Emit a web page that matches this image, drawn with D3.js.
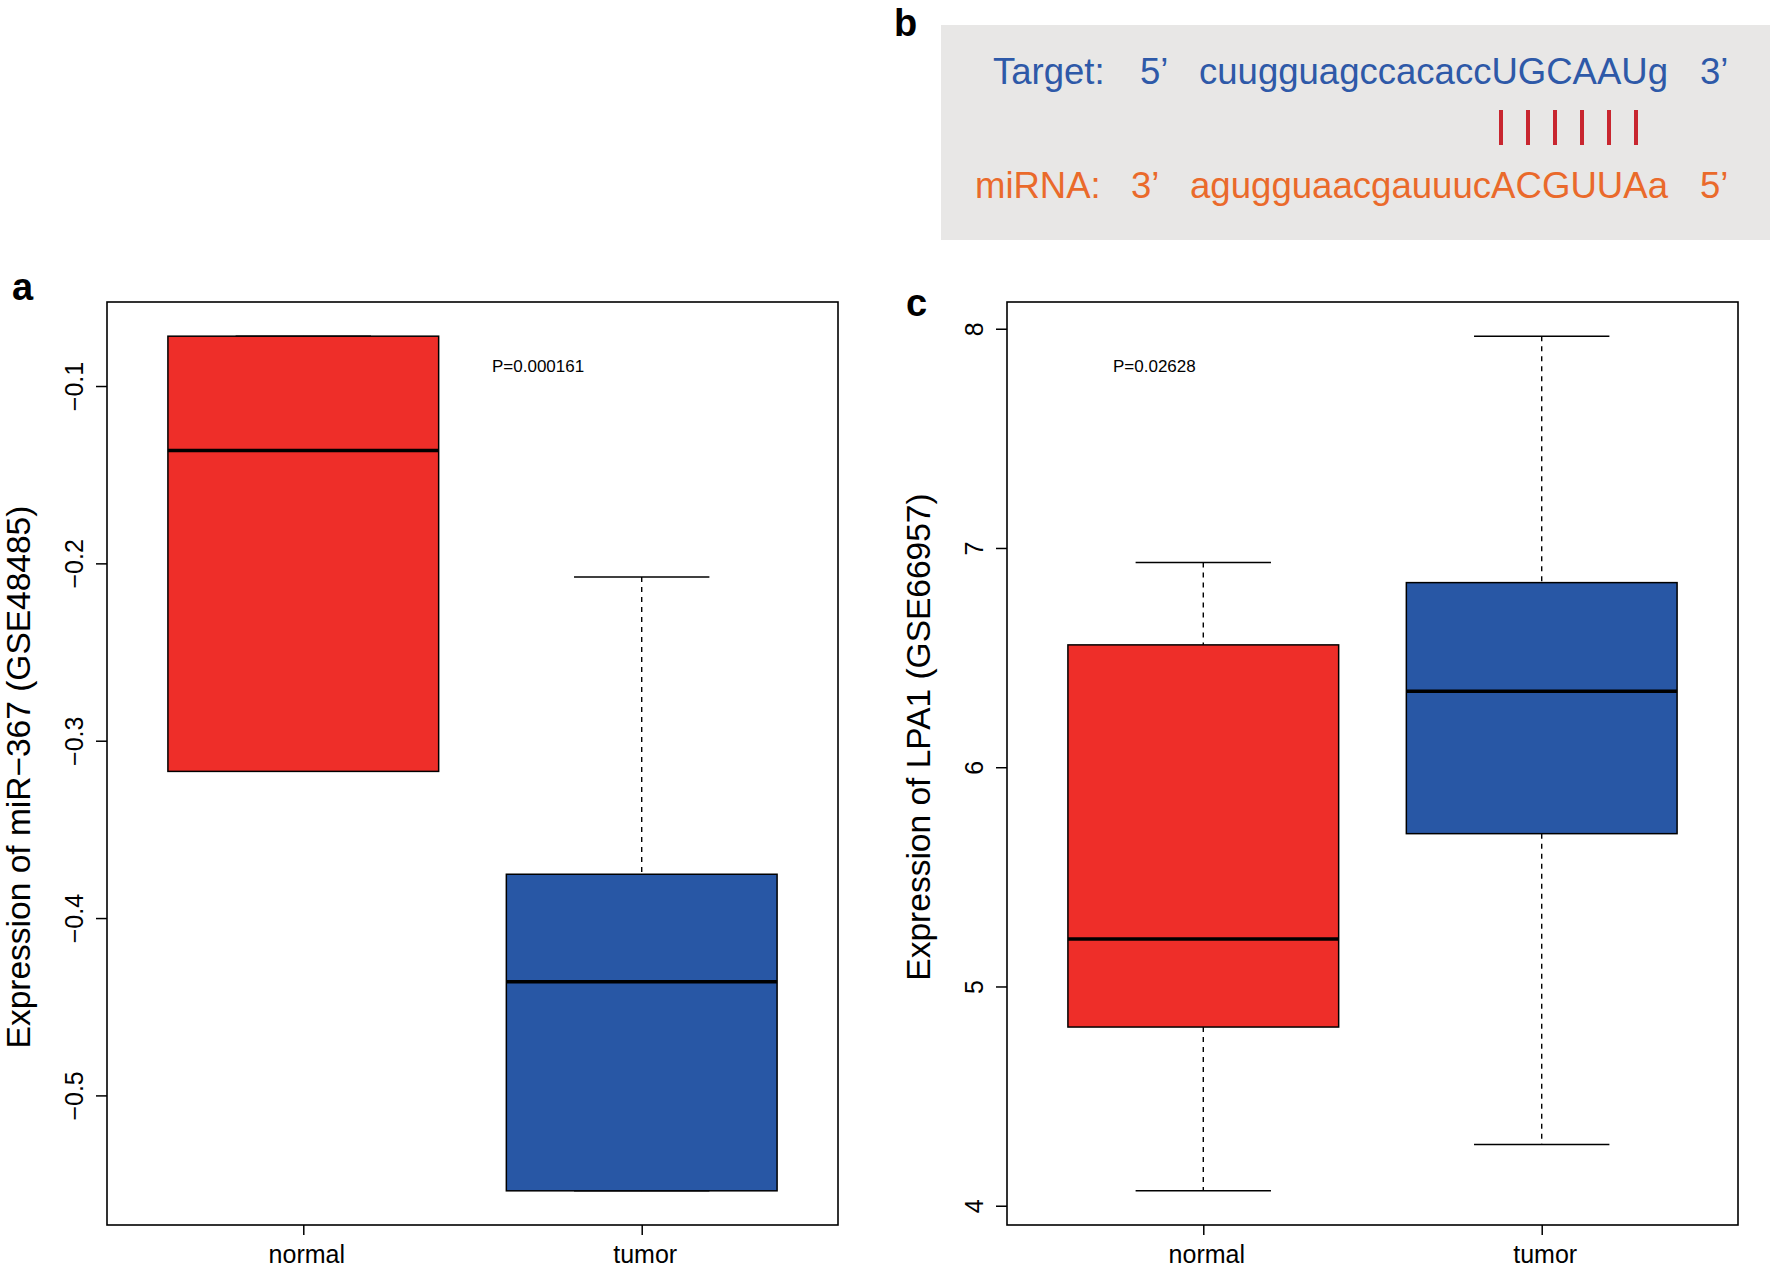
<!DOCTYPE html>
<html>
<head>
<meta charset="utf-8">
<script src="https://cdn.jsdelivr.net/npm/d3@7"></script>
<style>
  html, body { margin: 0; padding: 0; background: #ffffff; }
  svg { display: block; font-family: "Liberation Sans", Arial, Helvetica, sans-serif; }
</style>
</head>
<body>
<svg id="chart" width="1773" height="1270"></svg>
<script>
// ---------- DATA ----------
const categories = ["normal", "tumor"];

// Panel a: miR-367 (GSE48485) five-number summaries per category
const mirLowerWhisker = [-0.3173, -0.5538];
const mirQ1           = [-0.3173, -0.5538];
const mirMedian       = [-0.1363, -0.4359];
const mirQ3           = [-0.0719, -0.3753];
const mirUpperWhisker = [-0.0719, -0.2077];
const mirTicks        = [-0.5, -0.4, -0.3, -0.2, -0.1];
const mirPValue       = "P=0.000161";

// Panel c: LPA1 (GSE66957)
const lpaLowerWhisker = [4.068, 4.279];
const lpaQ1           = [4.815, 5.697];
const lpaMedian       = [5.217, 6.347];
const lpaQ3           = [6.558, 6.842];
const lpaUpperWhisker = [6.934, 7.966];
const lpaTicks        = [4, 5, 6, 7, 8];
const lpaPValue       = "P=0.02628";

// Panel b: target / miRNA pairing
const targetLabel = "Target:";
const targetEnds  = ["5\u2019", "3\u2019"];
const targetSeq   = "cuugguagccacaccUGCAAUg";
const mirnaLabel  = "miRNA:";
const mirnaEnds   = ["3\u2019", "5\u2019"];
const mirnaSeq    = "agugguaacgauuucACGUUAa";
const pairIndex   = [0, 1, 2, 3, 4, 5];

const boxColors = ["#EE2E29", "#2857A5"];

// ---------- DRAW ----------
const svg = d3.select("#chart");
const FONT = '"Liberation Sans", Arial, Helvetica, sans-serif';

function boxPanel(opts) {
  const {left, right, top, bottom, lw, q1, med, q3, uw, ticks, title, titleY, pText, pX, pY, tickFmt} = opts;
  const g = svg.append("g");
  const x = d3.scaleLinear().domain([0.42, 2.58]).range([left, right]);
  const lo = d3.min(lw), hi = d3.max(uw), span = hi - lo;
  const y = d3.scaleLinear().domain([lo - 0.04 * span, hi + 0.04 * span]).range([bottom, top]);

  const half = 0.4, staple = 0.2;
  const groups = g.selectAll("g.box").data(categories).join("g").attr("class", "box");
  groups.each(function(d, i) {
    const gg = d3.select(this);
    const cx = i + 1;
    gg.append("line").attr("x1", x(cx)).attr("x2", x(cx)).attr("y1", y(uw[i])).attr("y2", y(q3[i]))
      .attr("stroke", "#000").attr("stroke-width", 1.4).attr("stroke-dasharray", "5,5");
    gg.append("line").attr("x1", x(cx)).attr("x2", x(cx)).attr("y1", y(q1[i])).attr("y2", y(lw[i]))
      .attr("stroke", "#000").attr("stroke-width", 1.4).attr("stroke-dasharray", "5,5");
    gg.append("line").attr("x1", x(cx - staple)).attr("x2", x(cx + staple)).attr("y1", y(uw[i])).attr("y2", y(uw[i]))
      .attr("stroke", "#000").attr("stroke-width", 1.4);
    gg.append("line").attr("x1", x(cx - staple)).attr("x2", x(cx + staple)).attr("y1", y(lw[i])).attr("y2", y(lw[i]))
      .attr("stroke", "#000").attr("stroke-width", 1.4);
    gg.append("rect").attr("x", x(cx - half)).attr("width", x(cx + half) - x(cx - half))
      .attr("y", y(q3[i])).attr("height", y(q1[i]) - y(q3[i]))
      .attr("fill", boxColors[i]).attr("stroke", "#000").attr("stroke-width", 1.5);
    gg.append("line").attr("x1", x(cx - half)).attr("x2", x(cx + half)).attr("y1", y(med[i])).attr("y2", y(med[i]))
      .attr("stroke", "#000").attr("stroke-width", 3.5);
  });

  g.append("rect").attr("x", left).attr("y", top).attr("width", right - left).attr("height", bottom - top)
    .attr("fill", "none").attr("stroke", "#000").attr("stroke-width", 1.6);

  const ya = g.append("g").attr("transform", `translate(${left},0)`)
    .call(d3.axisLeft(y).tickValues(ticks).tickSize(11).tickSizeOuter(0).tickFormat(tickFmt));
  ya.select(".domain").remove();
  ya.selectAll(".tick line").attr("stroke", "#000").attr("stroke-width", 1.5);
  ya.selectAll(".tick text")
    .attr("x", null).attr("dy", null)
    .attr("text-anchor", "middle")
    .attr("transform", "translate(-24,0) rotate(-90)")
    .attr("fill", "#000")
    .style("font-size", "25px").style("font-family", FONT);

  const xa = g.append("g").attr("transform", `translate(0,${bottom})`)
    .call(d3.axisBottom(x).tickValues([1, 2]).tickSize(10).tickSizeOuter(0).tickFormat(v => categories[v - 1]));
  xa.select(".domain").remove();
  xa.selectAll(".tick line").attr("stroke", "#000").attr("stroke-width", 1.5);
  xa.selectAll(".tick text").attr("x", 3).attr("y", 38).attr("dy", null).attr("fill", "#000")
    .style("font-size", "25px").style("font-family", FONT);

  g.append("text")
    .attr("transform", `translate(${left - 77},${titleY}) rotate(-90)`)
    .attr("text-anchor", "middle")
    .style("font-size", "33.5px").style("font-family", FONT)
    .text(title);

  g.append("text").attr("x", pX).attr("y", pY)
    .style("font-size", "17px").style("font-family", FONT)
    .text(pText);
}

boxPanel({
  left: 107, right: 838, top: 302, bottom: 1225,
  lw: mirLowerWhisker, q1: mirQ1, med: mirMedian, q3: mirQ3, uw: mirUpperWhisker,
  ticks: mirTicks, title: "Expression of miR\u2212367 (GSE48485)", titleY: 777,
  pText: mirPValue, pX: 492, pY: 372,
  tickFmt: d3.format(".1f")
});

boxPanel({
  left: 1007, right: 1738, top: 302, bottom: 1225,
  lw: lpaLowerWhisker, q1: lpaQ1, med: lpaMedian, q3: lpaQ3, uw: lpaUpperWhisker,
  ticks: lpaTicks, title: "Expression of LPA1 (GSE66957)", titleY: 737,
  pText: lpaPValue, pX: 1113, pY: 372,
  tickFmt: d3.format("d")
});

// ---------- Panel b ----------
const gb = svg.append("g");
gb.append("rect").attr("x", 941).attr("y", 25).attr("width", 829).attr("height", 215).attr("fill", "#E8E7E6");

const blue = "#2E59A8", orange = "#EA6A2B", pairRed = "#C8262F";
function seqText(x, y, txt, col, len) {
  const t = gb.append("text").attr("x", x).attr("y", y).attr("fill", col)
    .style("font-size", "36.5px").style("font-family", FONT).text(txt);
  if (len) t.attr("textLength", len).attr("lengthAdjust", "spacingAndGlyphs");
}
seqText(993, 84, targetLabel, blue);
seqText(1140, 84, targetEnds[0], blue);
seqText(1199, 84, targetSeq, blue, 469);
seqText(1700, 84, targetEnds[1], blue);
seqText(975, 198, mirnaLabel, orange);
seqText(1131, 198, mirnaEnds[0], orange);
seqText(1190, 198, mirnaSeq, orange, 478);
seqText(1700, 198, mirnaEnds[1], orange);

const px = d3.scaleLinear().domain([0, 5]).range([1501, 1636]);
gb.selectAll("line.pair").data(pairIndex).join("line").attr("class", "pair")
  .attr("x1", d => px(d)).attr("x2", d => px(d)).attr("y1", 110).attr("y2", 145)
  .attr("stroke", pairRed).attr("stroke-width", 4);

// ---------- Panel letters ----------
const letters = [["a", 12, 300], ["b", 894, 36], ["c", 906, 316]];
svg.selectAll("text.letter").data(letters).join("text").attr("class", "letter")
  .attr("x", d => d[1]).attr("y", d => d[2])
  .style("font-size", "38px").style("font-weight", "bold").style("font-family", FONT)
  .text(d => d[0]);
</script>
</body>
</html>
